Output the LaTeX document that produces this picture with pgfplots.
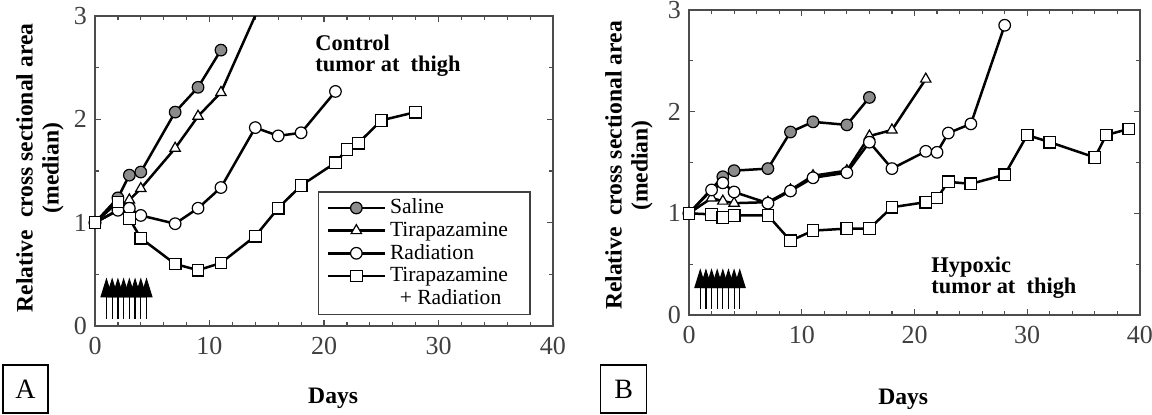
\documentclass[border=0pt]{standalone}
\usepackage{fontspec}
\setmainfont{Liberation Serif}
\usepackage{pgfplots}
\pgfplotsset{compat=1.18}
\usetikzlibrary{arrows.meta}

\pgfplotsset{
  tumor/.style={
    scale only axis,
    xmin=0, xmax=40, ymin=0, ymax=3,
    xtick={0,10,20,30,40}, ytick={0,1,2,3},
    minor x tick num=4, minor y tick num=1,
    tick align=inside,
    major tick length=3.2pt, minor tick length=2pt,
    axis line style={black!70, line width=0.7pt},
    tick style={black!70, line width=0.6pt},
    tick label style={font=\fontsize{13}{13}\selectfont, text=black!75},
    xticklabel style={yshift=-2pt},
    yticklabel style={xshift=-0.5pt},
    /pgf/number format/assume math mode=true,
    label style={font=\fontsize{11.8}{13}\selectfont\bfseries},
    ylabel={Relative\ \ cross sectional area\\(median)},
    xlabel={Days},
    every axis plot/.append style={line width=1.25pt},
  },
  sal/.style={black, mark=*, mark size=2.9pt, mark options={fill=black!45, line width=0.6pt}},
  tpz/.style={black, mark=triangle*, mark size=3pt, mark options={fill=white, line width=0.6pt}},
  rad/.style={black, mark=*, mark size=2.9pt, mark options={fill=white, line width=0.6pt}},
  trr/.style={black, mark=square*, mark size=2.9pt, mark options={fill=white, line width=0.6pt}},
  doses/.style={black, line width=0.6pt, quiver={u=0, v=0.4},
    -{Triangle[width=6pt,length=10pt]}, forget plot},
}
\tikzset{note/.style={anchor=north west, align=left, font=\fontsize{11.2}{10.5}\selectfont\bfseries}}

\begin{document}
\begin{tikzpicture}
\useasboundingbox (0pt,0pt) rectangle (576pt,-207pt);

% panel A
\begin{axis}[tumor, at={(47.5pt,-163pt)}, anchor=south west,
    width=229pt, height=155pt,
    ylabel style={at={(axis description cs:-0.12,0.51)}, anchor=center, align=center},
    xlabel style={at={(axis description cs:0.52,-0.232)}, anchor=center},
    legend style={at={(0.487,0.035)}, anchor=south west, draw=black!75, line width=0.6pt,
      font=\fontsize{10.8}{11.5}\selectfont, inner xsep=4pt, inner ysep=1.5pt, row sep=-1.5pt},
    legend cell align=left,
    legend image code/.code={\draw[line width=1.25pt, mark repeat=2, mark phase=2, #1]
      plot coordinates {(0cm,0cm) (0.5cm,0cm) (1cm,0cm)};},
  ]
  \addplot[sal] coordinates {(0,1) (2,1.24) (3,1.46) (4,1.49) (7,2.07) (9,2.31) (11,2.67)};
  \addlegendentry{\makebox[64pt][l]{Saline}}
  \addplot[tpz] coordinates {(0,1) (2,1.12) (3,1.22) (4,1.33) (7,1.72) (9,2.03) (11,2.26)};
  \addlegendentry{Tirapazamine}
  \addplot[rad] coordinates {(0,1) (2,1.12) (3,1.14) (4,1.07) (7,0.99) (9,1.14) (11,1.34) (14,1.92) (16,1.84) (18,1.87) (21,2.27)};
  \addlegendentry{Radiation}
  \addplot[trr] coordinates {(0,1) (2,1.2) (3,1.04) (4,0.85) (7,0.6) (9,0.54) (11,0.61) (14,0.87) (16,1.14) (18,1.36) (21,1.58) (22,1.71) (23,1.77) (25,1.99) (28,2.07)};
  \addlegendentry{Tirapazamine}
  \addlegendimage{empty legend}
  \addlegendentry{\hspace*{0.45em}+ Radiation}
  % tirapazamine goes off the top of the scale after day 11
  \addplot[black, no marks, forget plot] coordinates {(11,2.26) (16,3.5)};
  \addplot[doses] coordinates {(1,0.07) (1.5,0.07) (2,0.07) (2.5,0.07) (3,0.07) (3.5,0.07) (4,0.07) (4.5,0.07)};
  \node[note] at (rel axis cs:0.466,0.962) {Control\\tumor at\ \ thigh};
\end{axis}

% panel B
\begin{axis}[tumor, at={(344.5pt,-157.5pt)}, anchor=south west,
    width=225.5pt, height=152.5pt,
    ylabel style={at={(axis description cs:-0.133,0.49)}, anchor=center, align=center},
    xlabel style={at={(axis description cs:0.475,-0.278)}, anchor=center},
  ]
  \addplot[sal] coordinates {(0,1) (3,1.36) (4,1.42) (7,1.44) (9,1.8) (11,1.9) (14,1.87) (16,2.14)};
  \addplot[tpz] coordinates {(0,1) (2,1.15) (3,1.12) (4,1.10) (7,1.11) (9,1.23) (11,1.37) (14,1.42) (16,1.76) (18,1.82) (21,2.32)};
  \addplot[rad] coordinates {(0,1) (2,1.23) (3,1.3) (4,1.21) (7,1.1) (9,1.22) (11,1.35) (14,1.4) (16,1.7) (18,1.44) (21,1.61) (22,1.6) (23,1.79) (25,1.88) (28,2.85)};
  \addplot[trr] coordinates {(0,1) (2,0.99) (3,0.96) (4,0.98) (7,0.98) (9,0.73) (11,0.83) (14,0.85) (16,0.85) (18,1.06) (21,1.11) (22,1.15) (23,1.31) (25,1.29) (28,1.38) (30,1.77) (32,1.70) (36,1.55) (37,1.77) (39,1.83)};
  \addplot[doses] coordinates {(1,0.06) (1.5,0.06) (2,0.06) (2.5,0.06) (3,0.06) (3.5,0.06) (4,0.06) (4.5,0.06)};
  \node[note] at (rel axis cs:0.522,0.215) {Hypoxic\\tumor at\ \ thigh};
\end{axis}

% panel letters
\node[draw, line width=0.6pt, minimum width=22.5pt, minimum height=24pt, inner sep=0pt,
  font=\fontsize{14}{14}\selectfont] at (12.75pt,-194.5pt) {A};
\node[draw, line width=0.6pt, minimum width=23pt, minimum height=24pt, inner sep=0pt,
  font=\fontsize{14}{14}\selectfont] at (311.85pt,-194.5pt) {B};
\end{tikzpicture}
\end{document}
